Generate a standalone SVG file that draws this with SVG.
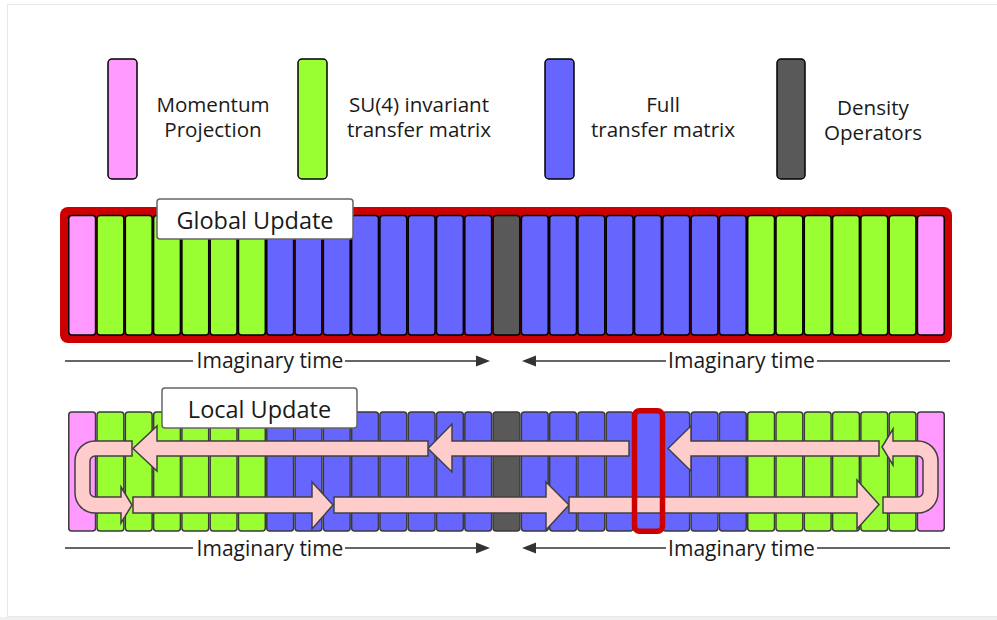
<svg xmlns="http://www.w3.org/2000/svg" width="997" height="620" viewBox="0 0 997 620">
<style>
text{font-family:"Open Sans","Noto Sans","Liberation Sans",sans-serif;fill:#1a1a1a;}
.lg{font-size:20.6px;text-anchor:middle;}
.lbl{font-size:23.5px;text-anchor:middle;}
.it{font-size:21px;text-anchor:middle;}
.g rect{stroke:#000;stroke-width:1.5;}
.l rect{stroke:#3a3a3a;stroke-width:1.5;}
.pk{fill:#ff99ff;}
.gr{fill:#99ff33;}
.bl{fill:#6666ff;}
.dk{fill:#595959;}
.arr{fill:#ffcccc;stroke:#404040;stroke-width:1.5;stroke-linejoin:miter;}
.tl{stroke:#333;stroke-width:1.5;fill:none;}
.th{fill:#333;}
.box{fill:#fff;stroke:#666;stroke-width:1.5;}
</style>
<rect x="0" y="0" width="997" height="620" fill="#fff"/>
<rect x="7.5" y="4.5" width="995" height="612" fill="none" stroke="#e8e8e8" stroke-width="1"/>
<rect x="0" y="617" width="997" height="3" fill="#f0f0f0"/>

<g id="legend-momentum">
<rect x="108" y="59" width="29" height="120" rx="4" class="pk" stroke="#000" stroke-width="1.5"/>
<text class="lg" x="213" y="112">Momentum</text>
<text class="lg" x="213" y="137">Projection</text>
</g>
<g id="legend-su4">
<rect x="298" y="59" width="29" height="120" rx="4" class="gr" stroke="#000" stroke-width="1.5"/>
<text class="lg" x="419" y="112">SU(4) invariant</text>
<text class="lg" x="419" y="137">transfer matrix</text>
</g>
<g id="legend-full">
<rect x="545" y="59" width="29" height="120" rx="4" class="bl" stroke="#000" stroke-width="1.5"/>
<text class="lg" x="663" y="112">Full</text>
<text class="lg" x="663" y="137">transfer matrix</text>
</g>
<g id="legend-density">
<rect x="777" y="59" width="28" height="120" rx="4" class="dk" stroke="#000" stroke-width="1.5"/>
<text class="lg" x="873" y="115">Density</text>
<text class="lg" x="873" y="140">Operators</text>
</g>

<g id="global-update">
<rect x="60" y="207" width="892" height="136" rx="8" fill="#cc0000"/>
<g class="g">
<rect x="68.75" y="215.5" width="26.8" height="119.5" rx="3" class="pk"/>
<rect x="97.04" y="215.5" width="26.8" height="119.5" rx="3" class="gr"/>
<rect x="125.33" y="215.5" width="26.8" height="119.5" rx="3" class="gr"/>
<rect x="153.62" y="215.5" width="26.8" height="119.5" rx="3" class="gr"/>
<rect x="181.91" y="215.5" width="26.8" height="119.5" rx="3" class="gr"/>
<rect x="210.2" y="215.5" width="26.8" height="119.5" rx="3" class="gr"/>
<rect x="238.49" y="215.5" width="26.8" height="119.5" rx="3" class="gr"/>
<rect x="266.78" y="215.5" width="26.8" height="119.5" rx="3" class="bl"/>
<rect x="295.07" y="215.5" width="26.8" height="119.5" rx="3" class="bl"/>
<rect x="323.36" y="215.5" width="26.8" height="119.5" rx="3" class="bl"/>
<rect x="351.65" y="215.5" width="26.8" height="119.5" rx="3" class="bl"/>
<rect x="379.94" y="215.5" width="26.8" height="119.5" rx="3" class="bl"/>
<rect x="408.23" y="215.5" width="26.8" height="119.5" rx="3" class="bl"/>
<rect x="436.52" y="215.5" width="26.8" height="119.5" rx="3" class="bl"/>
<rect x="464.81" y="215.5" width="26.8" height="119.5" rx="3" class="bl"/>
<rect x="493.1" y="215.5" width="26.8" height="119.5" rx="3" class="dk"/>
<rect x="521.39" y="215.5" width="26.8" height="119.5" rx="3" class="bl"/>
<rect x="549.68" y="215.5" width="26.8" height="119.5" rx="3" class="bl"/>
<rect x="577.97" y="215.5" width="26.8" height="119.5" rx="3" class="bl"/>
<rect x="606.26" y="215.5" width="26.8" height="119.5" rx="3" class="bl"/>
<rect x="634.55" y="215.5" width="26.8" height="119.5" rx="3" class="bl"/>
<rect x="662.84" y="215.5" width="26.8" height="119.5" rx="3" class="bl"/>
<rect x="691.13" y="215.5" width="26.8" height="119.5" rx="3" class="bl"/>
<rect x="719.42" y="215.5" width="26.8" height="119.5" rx="3" class="bl"/>
<rect x="747.71" y="215.5" width="26.8" height="119.5" rx="3" class="gr"/>
<rect x="776.0" y="215.5" width="26.8" height="119.5" rx="3" class="gr"/>
<rect x="804.29" y="215.5" width="26.8" height="119.5" rx="3" class="gr"/>
<rect x="832.58" y="215.5" width="26.8" height="119.5" rx="3" class="gr"/>
<rect x="860.87" y="215.5" width="26.8" height="119.5" rx="3" class="gr"/>
<rect x="889.16" y="215.5" width="26.8" height="119.5" rx="3" class="gr"/>
<rect x="917.45" y="215.5" width="26.8" height="119.5" rx="3" class="pk"/>
</g>
<rect x="157" y="199" width="196" height="40" rx="3" class="box"/>
<text class="lbl" x="255" y="228.5">Global Update</text>
</g>

<g id="global-time">
<path class="tl" d="M65,361 H193 M345,361 H478 M534,361 H666 M817,361 H950"/>
<polygon class="th" points="476,355.5 490,361 476,366.5"/>
<polygon class="th" points="536,355.5 522,361 536,366.5"/>
<text class="it" x="270" y="368">Imaginary time</text>
<text class="it" x="741.5" y="368">Imaginary time</text>
</g>

<g id="local-update">
<g class="l">
<rect x="68.75" y="412" width="26.8" height="119" rx="3" class="pk"/>
<rect x="97.04" y="412" width="26.8" height="119" rx="3" class="gr"/>
<rect x="125.33" y="412" width="26.8" height="119" rx="3" class="gr"/>
<rect x="153.62" y="412" width="26.8" height="119" rx="3" class="gr"/>
<rect x="181.91" y="412" width="26.8" height="119" rx="3" class="gr"/>
<rect x="210.2" y="412" width="26.8" height="119" rx="3" class="gr"/>
<rect x="238.49" y="412" width="26.8" height="119" rx="3" class="gr"/>
<rect x="266.78" y="412" width="26.8" height="119" rx="3" class="bl"/>
<rect x="295.07" y="412" width="26.8" height="119" rx="3" class="bl"/>
<rect x="323.36" y="412" width="26.8" height="119" rx="3" class="bl"/>
<rect x="351.65" y="412" width="26.8" height="119" rx="3" class="bl"/>
<rect x="379.94" y="412" width="26.8" height="119" rx="3" class="bl"/>
<rect x="408.23" y="412" width="26.8" height="119" rx="3" class="bl"/>
<rect x="436.52" y="412" width="26.8" height="119" rx="3" class="bl"/>
<rect x="464.81" y="412" width="26.8" height="119" rx="3" class="bl"/>
<rect x="493.1" y="412" width="26.8" height="119" rx="3" class="dk"/>
<rect x="521.39" y="412" width="26.8" height="119" rx="3" class="bl"/>
<rect x="549.68" y="412" width="26.8" height="119" rx="3" class="bl"/>
<rect x="577.97" y="412" width="26.8" height="119" rx="3" class="bl"/>
<rect x="606.26" y="412" width="26.8" height="119" rx="3" class="bl"/>
<rect x="634.55" y="412" width="26.8" height="119" rx="3" class="bl"/>
<rect x="662.84" y="412" width="26.8" height="119" rx="3" class="bl"/>
<rect x="691.13" y="412" width="26.8" height="119" rx="3" class="bl"/>
<rect x="719.42" y="412" width="26.8" height="119" rx="3" class="bl"/>
<rect x="747.71" y="412" width="26.8" height="119" rx="3" class="gr"/>
<rect x="776.0" y="412" width="26.8" height="119" rx="3" class="gr"/>
<rect x="804.29" y="412" width="26.8" height="119" rx="3" class="gr"/>
<rect x="832.58" y="412" width="26.8" height="119" rx="3" class="gr"/>
<rect x="860.87" y="412" width="26.8" height="119" rx="3" class="gr"/>
<rect x="889.16" y="412" width="26.8" height="119" rx="3" class="gr"/>
<rect x="917.45" y="412" width="26.8" height="119" rx="3" class="pk"/>
</g>
<g id="connectors">
<path class="arr" d="M879,441 L691,441 L691,426 L668,448.5 L691,471 L691,456 L879,456 Z"/>
<path class="arr" d="M629,441 L452,441 L452,424 L428,448.5 L452,472 L452,456 L629,456 Z"/>
<path class="arr" d="M428,441 L157,441 L157,426 L133,448.5 L157,471 L157,456 L428,456 Z"/>
<path class="arr" d="M132,441 L95,441 A20,20 0 0 0 75,461 L75,493 A20,20 0 0 0 95,513 L121,513 L121,523 L132,505 L121,487 L121,497 L95,497 A5,5 0 0 1 90,492 L90,461 A5,5 0 0 1 95,456 L132,456 Z"/>
<path class="arr" d="M133,497 L312,497 L312,482 L333,505 L312,529 L312,513 L133,513 Z"/>
<path class="arr" d="M334,497 L546,497 L546,482 L569,505 L546,530 L546,513 L334,513 Z"/>
<path class="arr" d="M569,497 L857,497 L857,480 L879,504.5 L857,529 L857,513 L569,513 Z"/>
<path class="arr" d="M883,497 L918,497 A5,5 0 0 0 923,492 L923,461 A5,5 0 0 0 918,456 L893,456 L893,465 L882,447 L893,429 L893,441 L918,441 A20,20 0 0 1 938,461 L938,493 A20,20 0 0 1 918,513 L883,513 Z"/>
</g>
<rect x="634.5" y="410.7" width="28" height="120.5" rx="5" fill="none" stroke="#cc0000" stroke-width="5.5"/>
<rect x="162" y="388" width="195" height="40" rx="3" class="box"/>
<text class="lbl" x="259.5" y="417.5">Local Update</text>
</g>

<g id="local-time">
<path class="tl" d="M65,548 H193 M345,548 H478 M534,548 H666 M817,548 H950"/>
<polygon class="th" points="476,542.5 490,548 476,553.5"/>
<polygon class="th" points="536,542.5 522,548 536,553.5"/>
<text class="it" x="270" y="556">Imaginary time</text>
<text class="it" x="741.5" y="556">Imaginary time</text>
</g>
</svg>
